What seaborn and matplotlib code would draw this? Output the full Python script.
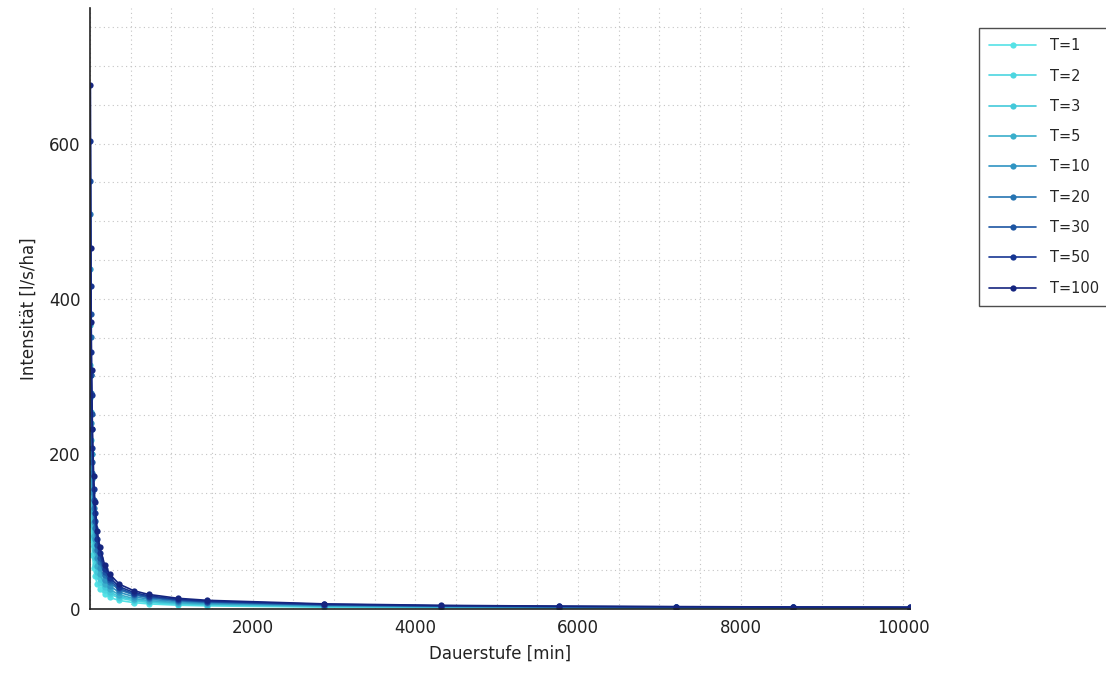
import matplotlib
matplotlib.use("Agg")
import matplotlib.pyplot as plt
from matplotlib.ticker import MultipleLocator
import seaborn as sns
import pandas as pd

durations = [5, 10, 15, 20, 30, 45, 60, 90, 120, 180, 240, 360, 540, 720,
             1080, 1440, 2880, 4320, 5760, 7200, 8640, 10080]

return_periods = ["T=1", "T=2", "T=3", "T=5", "T=10", "T=20", "T=30", "T=50", "T=100"]

x_ticks = [2000, 4000, 6000, 8000, 10000]

i_T1 = [200, 140, 110, 92, 70, 53, 43, 32, 26, 19, 15, 11, 8.2, 6.6, 4.9, 4.0, 2.4, 1.7, 1.4, 1.15, 0.98, 0.86]
i_T2 = [272, 189, 149, 124.5, 94.4, 70.9, 57.3, 42.2, 34.1, 24.7, 19.5, 14.2, 10.5, 8.4, 6.2, 5.1, 3.0, 2.15, 1.75, 1.45, 1.2, 1.08]
i_T3 = [314, 218, 172, 143.5, 108.7, 81.4, 65.7, 48.2, 38.9, 28.1, 22.2, 16.0, 11.9, 9.5, 7.0, 5.7, 3.4, 2.4, 1.95, 1.6, 1.37, 1.2]
i_T5 = [366, 254, 201, 167.5, 126.6, 94.6, 76.2, 55.8, 44.9, 32.3, 25.5, 18.3, 13.5, 10.9, 8.0, 6.5, 3.9, 2.75, 2.2, 1.8, 1.55, 1.36]
i_T10 = [438, 302, 240, 200, 151, 112.5, 90.5, 66, 53, 38, 30, 21.5, 15.9, 12.7, 9.4, 7.6, 4.5, 3.2, 2.55, 2.1, 1.8, 1.58]
i_T20 = [510, 351, 279, 232.5, 175.4, 130.4, 104.8, 76.2, 61.1, 43.7, 34.5, 24.7, 18.2, 14.5, 10.7, 8.7, 5.1, 3.65, 2.9, 2.4, 2.05, 1.8]
i_T30 = [552, 380, 302, 251.5, 189.7, 140.9, 113.2, 82.2, 65.9, 47.1, 37.2, 26.5, 19.5, 15.6, 11.5, 9.3, 5.5, 3.9, 3.1, 2.6, 2.2, 1.92]
i_T50 = [604, 416, 331, 275.5, 207.6, 154.1, 123.7, 89.8, 71.9, 51.3, 40.5, 28.8, 21.2, 17.0, 12.5, 10.1, 6.0, 4.25, 3.35, 2.8, 2.36, 2.08]
i_T100 = [676, 465, 370, 308, 232, 172, 138, 100, 80, 57, 45, 32, 23.5, 18.8, 13.8, 11.2, 6.6, 4.7, 3.7, 3.1, 2.6, 2.3]

series = [i_T1, i_T2, i_T3, i_T5, i_T10, i_T20, i_T30, i_T50, i_T100]

colors = ["#55e2e6", "#4cd6e0", "#43c9da", "#39aecb", "#2f94c2", "#2674b2",
          "#1d55a2", "#163692", "#15257f"]

rows = []
for name, vals in zip(return_periods, series):
    for d, v in zip(durations, vals):
        rows.append({"Dauerstufe": d, "Intensitaet": v, "T": name})
df = pd.DataFrame(rows)

sns.set_style("white")
plt.rcParams["font.family"] = ["DejaVu Sans"]

fig = plt.figure(figsize=(11.06, 6.77), dpi=100)
ax = fig.add_axes([90 / 1106, 68 / 677, 820 / 1106, 601 / 677])

sns.lineplot(data=df, x="Dauerstufe", y="Intensitaet", hue="T",
             hue_order=return_periods, palette=colors, marker="o",
             markersize=4.5, markeredgewidth=0, linewidth=1.2, ax=ax,
             legend=True, sort=True)

ax.set_xlim(0, 10080)
ax.set_ylim(0, 775)

ax.set_xticks(x_ticks)
ax.xaxis.set_minor_locator(MultipleLocator(500))
ax.yaxis.set_major_locator(MultipleLocator(200))
ax.yaxis.set_minor_locator(MultipleLocator(50))

ax.grid(True, which="both", linestyle=(0, (1, 3)), color="#c4c4c4", linewidth=0.8)
ax.set_axisbelow(True)

for side in ["top", "right"]:
    ax.spines[side].set_visible(False)
for side in ["left", "bottom"]:
    ax.spines[side].set_color("#222222")
    ax.spines[side].set_linewidth(1.2)

ax.tick_params(axis="both", which="major", direction="inout", length=7,
               width=1.0, colors="#222222", labelsize=12, labelcolor="#222222")
ax.tick_params(axis="both", which="minor", direction="in", length=4,
               width=0.8, colors="#222222")

ax.set_xlabel("Dauerstufe [min]", fontsize=12, color="#222222", labelpad=6)
ax.set_ylabel("Intensität [l/s/ha]", fontsize=12, color="#222222", labelpad=8)

leg = ax.legend(loc="upper left", bbox_to_anchor=(979 / 1106, 1 - 28 / 677),
                bbox_transform=fig.transFigure, frameon=True, fancybox=False,
                fontsize=10.5, handlelength=3.2, labelspacing=1.05,
                borderpad=0.7, handletextpad=1.0, borderaxespad=0)
leg.get_frame().set_edgecolor("#222222")
leg.get_frame().set_linewidth(1.0)

fig.savefig("out.png", dpi=100)
